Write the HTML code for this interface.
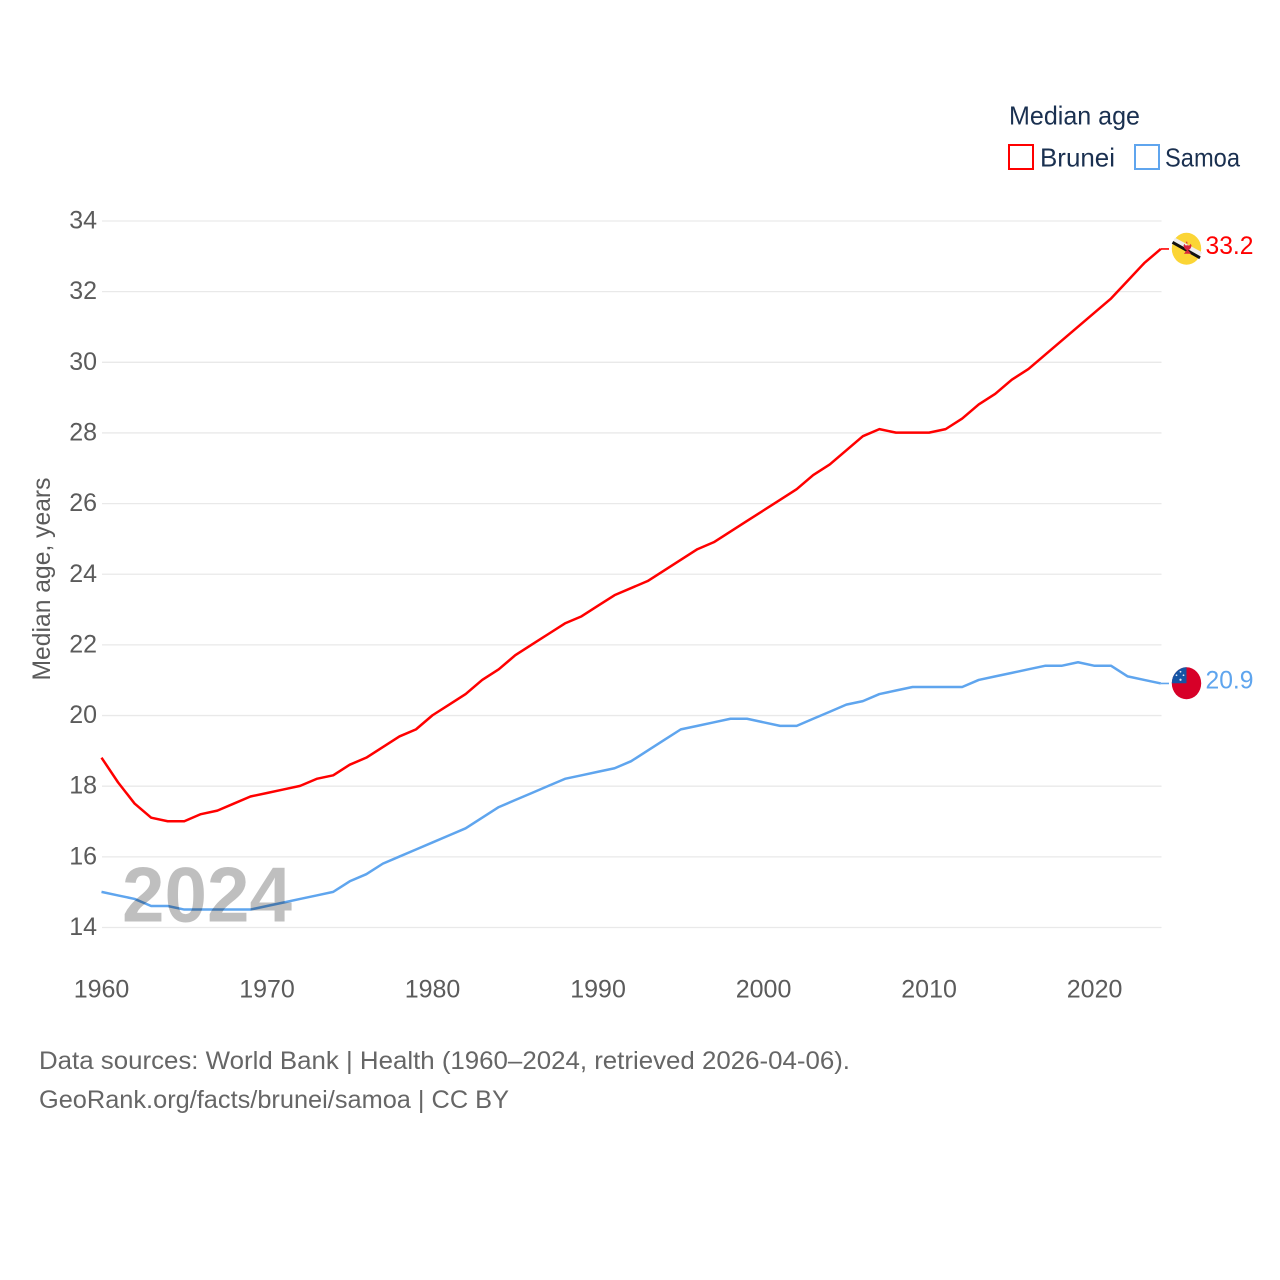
<!DOCTYPE html>
<html lang="en">
<head>
<meta charset="utf-8">
<title>Median age: Brunei and Samoa</title>
<style>
html,body{margin:0;padding:0;background:#fff}
svg{display:block}
text{font-family:"Liberation Sans",sans-serif}
</style>
</head>
<body>
<svg id="chart" xmlns="http://www.w3.org/2000/svg" width="1280" height="1280" viewBox="0 0 1280 1280">
  <rect x="0" y="0" width="1280" height="1280" fill="#fff"/>
  <g id="grid"></g>
  <g id="yticks"></g>
  <g id="xticks"></g>
  <text transform="translate(50,579) rotate(-90)" text-anchor="middle" font-size="25" fill="#5b5b5b" textLength="203" lengthAdjust="spacingAndGlyphs">Median age, years</text>
  <g id="series"></g>
  <text x="122" y="921.5" font-size="78" font-weight="bold" fill="#000" fill-opacity="0.25" textLength="170" lengthAdjust="spacingAndGlyphs">2024</text>

  <g>
    <text x="1009" y="124.5" font-size="26" fill="#1a3050" textLength="131" lengthAdjust="spacingAndGlyphs">Median age</text>
    <g>
      <rect x="1009" y="145" width="24" height="24" fill="none" stroke="#ff0000" stroke-width="2"/>
      <text x="1040" y="166.5" font-size="26" fill="#1a3050" textLength="75" lengthAdjust="spacingAndGlyphs">Brunei</text>
    </g>
    <g>
      <rect x="1135" y="145" width="24" height="24" fill="none" stroke="#5fa5ee" stroke-width="2"/>
      <text x="1165" y="166.5" font-size="26" fill="#1a3050" textLength="75" lengthAdjust="spacingAndGlyphs">Samoa</text>
    </g>
  </g>

  <g id="flag-brunei">
    <ellipse cx="0" cy="0" rx="14.7" ry="16" fill="#fbd535"/>
    <line x1="-12.5" y1="-9" x2="14.5" y2="5.5" stroke="#eeeeee" stroke-width="4.5"/>
    <line x1="-14" y1="-6.5" x2="13.5" y2="9" stroke="#111111" stroke-width="3"/>
    <path d="M-0.8,-7 h1.6 v3.6 h2.4 l1,-1.6 l0.8,1.8 q-0.6,4 -3.4,4.6 l3,3.6 h-7.2 l3,-3.6 q-2.8,-0.6 -3.4,-4.6 l0.8,-1.8 l1,1.6 h2.4z" fill="#d8253c"/>
  </g>

  <g id="flag-samoa">
    <defs><clipPath id="clip-samoa"><ellipse cx="0" cy="0" rx="14.7" ry="16"/></clipPath></defs>
    <g clip-path="url(#clip-samoa)">
      <rect x="-16" y="-17" width="32" height="34" fill="#d70028"/>
      <rect x="-16" y="-17" width="16" height="17" fill="#1554a4"/>
      <circle cx="-6" cy="-11.5" r="0.9" fill="#dfe8f5"/>
      <circle cx="-10" cy="-8" r="0.9" fill="#dfe8f5"/>
      <circle cx="-3" cy="-8" r="0.9" fill="#dfe8f5"/>
      <circle cx="-6" cy="-3.5" r="1.1" fill="#dfe8f5"/>
    </g>
  </g>

  <g id="labels"></g>

  <text x="39" y="1069" font-size="25" fill="#666666" textLength="811" lengthAdjust="spacingAndGlyphs">Data sources: World Bank | Health (1960–2024, retrieved 2026-04-06).</text>
  <text x="39" y="1108" font-size="25" fill="#666666" textLength="470" lengthAdjust="spacingAndGlyphs">GeoRank.org/facts/brunei/samoa | CC BY</text>
</svg>
<script>
const startYear = 1960;
const xTickLabels = [1960, 1970, 1980, 1990, 2000, 2010, 2020];
const yTickLabels = [14, 16, 18, 20, 22, 24, 26, 28, 30, 32, 34];
const bruneiValues = [18.8, 18.1, 17.5, 17.1, 17.0, 17.0, 17.2, 17.3, 17.5, 17.7,
  17.8, 17.9, 18.0, 18.2, 18.3, 18.6, 18.8, 19.1, 19.4, 19.6,
  20.0, 20.3, 20.6, 21.0, 21.3, 21.7, 22.0, 22.3, 22.6, 22.8,
  23.1, 23.4, 23.6, 23.8, 24.1, 24.4, 24.7, 24.9, 25.2, 25.5,
  25.8, 26.1, 26.4, 26.8, 27.1, 27.5, 27.9, 28.1, 28.0, 28.0,
  28.0, 28.1, 28.4, 28.8, 29.1, 29.5, 29.8, 30.2, 30.6, 31.0,
  31.4, 31.8, 32.3, 32.8, 33.2];
const samoaValues = [15.0, 14.9, 14.8, 14.6, 14.6, 14.5, 14.5, 14.5, 14.5, 14.5,
  14.6, 14.7, 14.8, 14.9, 15.0, 15.3, 15.5, 15.8, 16.0, 16.2,
  16.4, 16.6, 16.8, 17.1, 17.4, 17.6, 17.8, 18.0, 18.2, 18.3,
  18.4, 18.5, 18.7, 19.0, 19.3, 19.6, 19.7, 19.8, 19.9, 19.9,
  19.8, 19.7, 19.7, 19.9, 20.1, 20.3, 20.4, 20.6, 20.7, 20.8,
  20.8, 20.8, 20.8, 21.0, 21.1, 21.2, 21.3, 21.4, 21.4, 21.5,
  21.4, 21.4, 21.1, 21.0, 20.9];

const NS = 'http://www.w3.org/2000/svg';
const xScale = function (year) { return 101.5 + (year - 1960) * (1160.8 - 101.5) / 64; };
const yScale = function (v) { return 927.2 - (v - 14) * (927.5 - 221) / 20; };
const gridY = function (v) { return 927.5 - (v - 14) * (927.5 - 221) / 20; };

function make(tag, parent, attrs, content) {
  const el = document.createElementNS(NS, tag);
  Object.keys(attrs).forEach(function (k) { el.setAttribute(k, attrs[k]); });
  if (content !== undefined) el.textContent = content;
  parent.appendChild(el);
  return el;
}

const grid = document.getElementById('grid');
const yticks = document.getElementById('yticks');
const xticks = document.getElementById('xticks');
const series = document.getElementById('series');
const labels = document.getElementById('labels');

yTickLabels.forEach(function (t) {
  const line = make('line', grid, { x1: 102, x2: 1161.5, y1: gridY(t), y2: gridY(t), stroke: '#e9e9e9', 'stroke-width': 1.3 });
  
  
  const label = make('text', yticks, { x: 97, y: gridY(t) + 7.5, 'text-anchor': 'end', 'font-size': 25, fill: '#5b5b5b' }, String(t));
  
  
});

xTickLabels.forEach(function (t) {
  const label = make('text', xticks, { x: xScale(t), y: 997.5, 'text-anchor': 'middle', 'font-size': 25, fill: '#5b5b5b' }, String(t));
  
  
});

function drawSeries(values, color) {
  const pts = values.map(function (v, i) { return xScale(startYear + i).toFixed(2) + ',' + yScale(v).toFixed(2); });
  return make('polyline', series, { points: pts.join(' '), fill: 'none', stroke: color, 'stroke-width': 2.5, 'stroke-linejoin': 'round' });
}

function drawConnector(value, color) {
  const last = xScale(startYear + bruneiValues.length - 1);
  return make('line', series, { x1: last, x2: 1169, y1: yScale(value), y2: yScale(value), stroke: color, 'stroke-width': 1.6 });
}

const bruneiLine = drawSeries(bruneiValues, '#ff0000');


const samoaLine = drawSeries(samoaValues, '#5fa5ee');



const bruneiLast = bruneiValues[bruneiValues.length - 1];
const samoaLast = samoaValues[samoaValues.length - 1];

const bruneiConnector = drawConnector(bruneiLast, '#ff0000');


const samoaConnector = drawConnector(samoaLast, '#5fa5ee');



document.getElementById('flag-brunei').setAttribute('transform', 'translate(1186.5,' + (yScale(bruneiLast) - 0.2) + ')');
document.getElementById('flag-samoa').setAttribute('transform', 'translate(1186.5,' + (yScale(samoaLast) - 0.2) + ')');

const bruneiLabel = make('text', labels, { x: 1205.5, y: yScale(bruneiLast) + 5.2, 'font-size': 25, fill: '#ff0000', textLength: 48, lengthAdjust: 'spacingAndGlyphs' }, bruneiLast.toFixed(1));


const samoaLabel = make('text', labels, { x: 1205.5, y: yScale(samoaLast) + 5.2, 'font-size': 25, fill: '#5fa5ee', textLength: 48, lengthAdjust: 'spacingAndGlyphs' }, samoaLast.toFixed(1));


</script>
</body>
</html>
